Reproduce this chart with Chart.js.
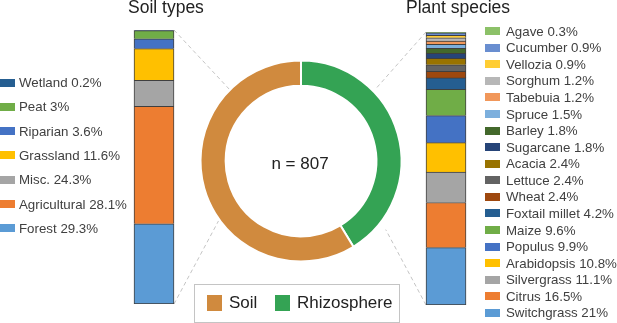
<!DOCTYPE html>
<html>
<head>
<meta charset="utf-8">
<script src="https://cdn.jsdelivr.net/npm/chart.js@4/dist/chart.umd.min.js"></script>
<style>
body{margin:0;background:#fff;font-family:"Liberation Sans",Arial,sans-serif;color:#404040;}
#wrap{position:relative;width:617px;height:323px;overflow:hidden;}
canvas{position:absolute;}
.txt{position:absolute;white-space:nowrap;line-height:1;}
.title{font-size:17.5px;color:#222;}
.row{position:absolute;left:0;height:16px;display:flex;align-items:center;font-size:13.3px;white-space:nowrap;}
.row i{display:block;width:15px;height:8px;}
#donutLegend{position:absolute;left:194px;top:284px;width:204px;height:37px;border:1px solid #c4c4c4;}
.sw{position:absolute;width:15px;height:16px;}
</style>
</head>
<body>
<div id="wrap">
    <canvas id="donut" width="617" height="323" style="left:0;top:0"></canvas>
    <canvas id="soilBar" width="60" height="274" style="left:124px;top:30px"></canvas>
    <canvas id="plantBar" width="60" height="273" style="left:416px;top:32px"></canvas>
    <div class="txt title" style="left:128px;top:-1px">Soil types</div>
    <div class="txt title" style="left:406px;top:-1px">Plant species</div>
    <div class="txt" style="left:250px;top:155px;width:100px;text-align:center;font-size:17px;color:#222">n = 807</div>
    <div id="soilLegend" style="position:absolute;left:0;top:0"></div>
    <div id="plantLegend" style="position:absolute;left:485px;top:0"></div>
    <div id="donutLegend"></div>
</div>
<script>
"use strict";

//region Data
// stacked bottom -> top
const soilTypes=["Forest","Agricultural","Misc.","Grassland","Riparian","Peat","Wetland"];
const soilShare=[29.3,28.1,24.3,11.6,3.6,3,0.2];      // % printed in the legend
const soilBar=[29.3,42.9,9.5,11.6,3.6,3,0.2];         // segment heights as drawn in the bar
const soilColors=["#5B9BD5","#ED7D31","#A5A5A5","#FFC000","#4472C4","#70AD47","#255E91"];

const plantSpecies=["Switchgrass","Citrus","Silvergrass","Arabidopsis","Populus","Maize","Foxtail millet","Wheat","Lettuce","Acacia","Sugarcane","Barley","Spruce","Tabebuia","Sorghum","Vellozia","Cucumber","Agave"];
const plantShare=[21,16.5,11.1,10.8,9.9,9.6,4.2,2.4,2.4,2.4,1.8,1.8,1.5,1.2,1.2,0.9,0.9,0.3];
const plantColors=["#5B9BD5","#ED7D31","#A5A5A5","#FFC000","#4472C4","#70AD47","#255E91","#9E480E","#636363","#997300","#264478","#43682B","#7CAFDD","#F1975A","#B7B7B7","#FFCD33","#698ED0","#8CC168"];

const habitats=["Soil","Rhizosphere"];
const habitatCounts=[474,333];
const habitatColors=["#D08A3E","#34A354"];
//endregion

//region Bars
function makeBar(id, values, colors) {
    let datasets=values.map(function(v, i) {
        return {
            data:[v],
            backgroundColor:colors[i],
            borderColor:"#3f3f3f",
            borderWidth:i==0 ? 1 : {top:1,left:1,right:1,bottom:0},
            borderSkipped:false,
            barThickness:40
        };
    });
    let total=values.reduce(function(a, b){ return a+b; }, 0);
    return new Chart(document.getElementById(id), {
        type:"bar",
        data:{labels:[""], datasets:datasets},
        options:{
            responsive:false,
            animation:false,
            events:[],
            layout:{padding:0},
            plugins:{legend:{display:false}, tooltip:{enabled:false}},
            scales:{
                x:{stacked:true, display:false},
                y:{stacked:true, display:false, min:0, max:total}
            }
        }
    });
}

let soilChart=makeBar("soilBar", soilBar, soilColors);
let plantChart=makeBar("plantBar", plantShare, plantColors);

function barCorners(chart) {
    let n=chart.data.datasets.length;
    let first=chart.getDatasetMeta(0).data[0];
    let last=chart.getDatasetMeta(n-1).data[0];
    let ox=chart.canvas.offsetLeft, oy=chart.canvas.offsetTop;
    return {
        left:ox+last.x-last.width/2,
        right:ox+last.x+last.width/2,
        top:oy+last.y,
        bottom:oy+first.base
    };
}
//endregion

//region Legends
function makeLegend(id, names, share, colors, top, step, gap) {
    let box=document.getElementById(id);
    // legend lists top of the stack first
    for(let i=names.length-1, r=0; i>=0; i--, r++)
    {
        let row=document.createElement("div");
        row.className="row";
        row.style.top=(top+r*step-8)+"px";
        let sw=document.createElement("i");
        sw.style.background=colors[i];
        sw.style.marginRight=gap+"px";
        row.appendChild(sw);
        let t=document.createElement("span");
        t.textContent=names[i]+" "+share[i]+"%";
        row.appendChild(t);
        box.appendChild(row);
    }
}
makeLegend("soilLegend", soilTypes, soilShare, soilColors, 82.5, 24.33, 4);
makeLegend("plantLegend", plantSpecies, plantShare, plantColors, 31.2, 16.57, 6);

(function() {
    let box=document.getElementById("donutLegend");
    let pos=[[12,34],[80,102]];
    for(let i=0; i<habitats.length; i++)
    {
        let sw=document.createElement("div");
        sw.className="sw";
        sw.style.left=pos[i][0]+"px";
        sw.style.top="10px";
        sw.style.background=habitatColors[i];
        box.appendChild(sw);
        let t=document.createElement("div");
        t.className="txt";
        t.style.left=pos[i][1]+"px";
        t.style.top="9px";
        t.style.fontSize="17px";
        t.style.color="#222";
        t.textContent=habitats[i];
        box.appendChild(t);
    }
})();
//endregion

//region Donut
const connectors={
    id:"connectors",
    beforeDatasetsDraw:function(chart) {
        let arc=chart.getDatasetMeta(0).data[0];
        let s=barCorners(soilChart), p=barCorners(plantChart);
        let lines=[
            [s.right, s.top, -135, 100],
            [s.right, s.bottom, 144, 102],
            [p.left, p.top, -44, 104],
            [p.left, p.bottom, 39, 109]
        ];
        let ctx=chart.ctx;
        ctx.save();
        ctx.strokeStyle="#c4c4c4";
        ctx.lineWidth=1;
        ctx.setLineDash([4,3]);
        lines.forEach(function(l) {
            let a=l[2]*Math.PI/180;
            ctx.beginPath();
            ctx.moveTo(l[0], l[1]);
            ctx.lineTo(arc.x+l[3]*Math.cos(a), arc.y+l[3]*Math.sin(a));
            ctx.stroke();
        });
        ctx.restore();
    }
};

// Rhizosphere starts at 12 o'clock, going clockwise
new Chart(document.getElementById("donut"), {
    type:"doughnut",
    data:{
        labels:habitats.slice().reverse(),
        datasets:[{
            data:habitatCounts.slice().reverse(),
            backgroundColor:habitatColors.slice().reverse(),
            borderColor:"#ffffff",
            borderWidth:2
        }]
    },
    options:{
        responsive:false,
        animation:false,
        events:[],
        radius:100.5,
        cutout:"75%",
        layout:{padding:{left:0,top:0,right:15,bottom:1}},
        plugins:{legend:{display:false}, tooltip:{enabled:false}}
    },
    plugins:[connectors]
});
//endregion
</script>
</body>
</html>
